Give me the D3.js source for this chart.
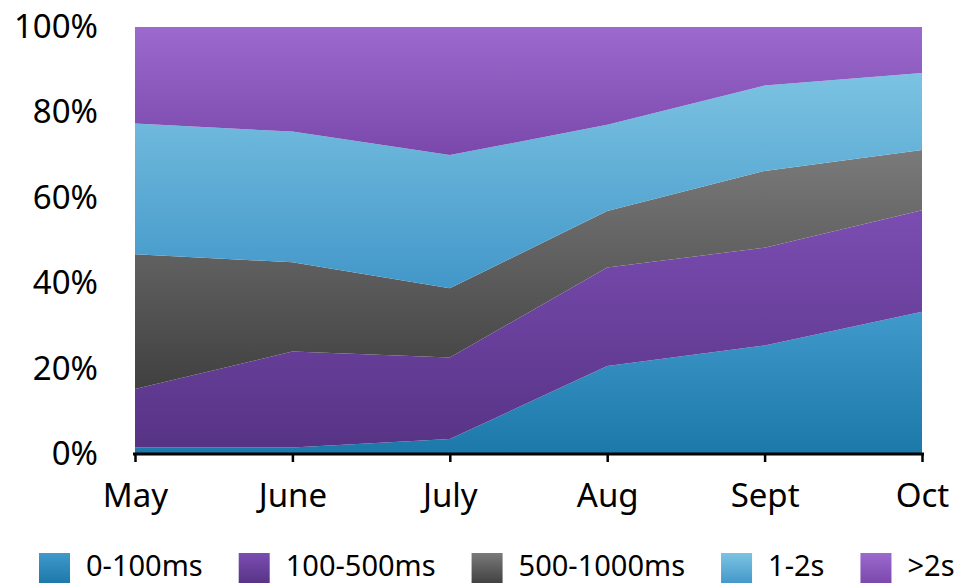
<!DOCTYPE html>
<html>
<head>
<meta charset="utf-8">
<script src="https://cdn.jsdelivr.net/npm/d3@7"></script>
<style>
  html, body { margin: 0; padding: 0; background: #fff; }
  svg { display: block; font-family: "Noto Sans", "Open Sans", sans-serif; }
</style>
</head>
<body>
<svg id="chart" width="968" height="583"></svg>
<script>
// Monthly share of response times by latency bucket (percent of requests)
const months = ["May", "June", "July", "Aug", "Sept", "Oct"];
const bucketNames = ["0-100ms", "100-500ms", "500-1000ms", "1-2s", ">2s"];
const fast = [1.5, 1.5, 3.5, 20.6, 25.4, 33.3];        // 0-100ms
const medium = [13.7, 22.5, 19.1, 23.1, 22.9, 23.8];   // 100-500ms
const slow = [31.6, 20.9, 16.2, 13.2, 18.0, 14.1];     // 500-1000ms
const verySlow = [30.6, 30.6, 31.2, 20.2, 20.0, 18.0]; // 1-2s
const timeout = [22.6, 24.5, 30.0, 22.9, 13.7, 10.8];  // >2s
const yTicks = [0, 0.2, 0.4, 0.6, 0.8, 1.0];

// Gradient stops (top, bottom) for each bucket
const gradTop = ["#409acb", "#7b4db2", "#7a7a7a", "#7cc3e2", "#9c69ce"];
const gradBottom = ["#1b78a9", "#573385", "#404040", "#4297c9", "#7a47ab"];

const seriesValues = [fast, medium, slow, verySlow, timeout];
const rows = months.map((m, i) => {
  const r = { month: m };
  bucketNames.forEach((b, k) => { r[b] = seriesValues[k][i]; });
  return r;
});

const svg = d3.select("#chart");
const margin = { left: 135, right: 46, top: 27, bottom: 129 };
const W = 968, H = 583;

const x = d3.scalePoint().domain(months).range([margin.left, W - margin.right]);
const y = d3.scaleLinear().domain([0, 1]).range([H - margin.bottom, margin.top]);

const stack = d3.stack().keys(bucketNames).offset(d3.stackOffsetExpand);
const layers = stack(rows);

const defs = svg.append("defs");
bucketNames.forEach((b, k) => {
  const g = defs.append("linearGradient")
    .attr("id", "grad" + k)
    .attr("x1", 0).attr("y1", 0).attr("x2", 0).attr("y2", 1);
  g.append("stop").attr("offset", "0%").attr("stop-color", gradTop[k]);
  g.append("stop").attr("offset", "100%").attr("stop-color", gradBottom[k]);
});

const area = d3.area()
  .x(d => x(d.data.month))
  .y0(d => y(d[0]))
  .y1(d => y(d[1]));

svg.append("g").selectAll("path")
  .data(layers)
  .join("path")
  .attr("d", area)
  .attr("fill", (d, k) => `url(#grad${k})`);

// Bottom axis
const xAxis = d3.axisBottom(x).tickSize(8).tickPadding(22).tickSizeOuter(0);
const gx = svg.append("g")
  .attr("transform", `translate(0,${y(0)})`)
  .call(xAxis);
gx.select(".domain").attr("stroke", "#000").attr("stroke-width", 3)
  .attr("d", `M${margin.left - 2},0H${W - margin.right + 2}`);
gx.selectAll(".tick line").attr("stroke", "#000").attr("stroke-width", 2.5);
gx.selectAll(".tick text")
  .attr("fill", "#000")
  .attr("font-size", 33)
  .attr("font-family", "Noto Sans, sans-serif");

// Left axis labels (no line)
const yAxis = d3.axisLeft(y).tickValues(yTicks).tickFormat(d3.format(".0%")).tickSize(0).tickPadding(37);
const gy = svg.append("g")
  .attr("transform", `translate(${margin.left},0)`)
  .call(yAxis);
gy.select(".domain").remove();
gy.selectAll(".tick text")
  .attr("fill", "#000")
  .attr("font-size", 33)
  .attr("font-family", "Noto Sans, sans-serif");

// Legend
const legend = svg.append("g").attr("transform", "translate(39,553)");
let cx = 0;
bucketNames.forEach((b, k) => {
  const item = legend.append("g").attr("transform", `translate(${cx},0)`);
  item.append("rect")
    .attr("width", 31).attr("height", 31)
    .attr("fill", `url(#grad${k})`);
  const t = item.append("text")
    .attr("x", 47).attr("y", 23)
    .attr("font-size", 29)
    .attr("fill", "#000")
    .text(b);
  const w = t.node().getComputedTextLength();
  cx += 47 + w + 36;
});
</script>
</body>
</html>
